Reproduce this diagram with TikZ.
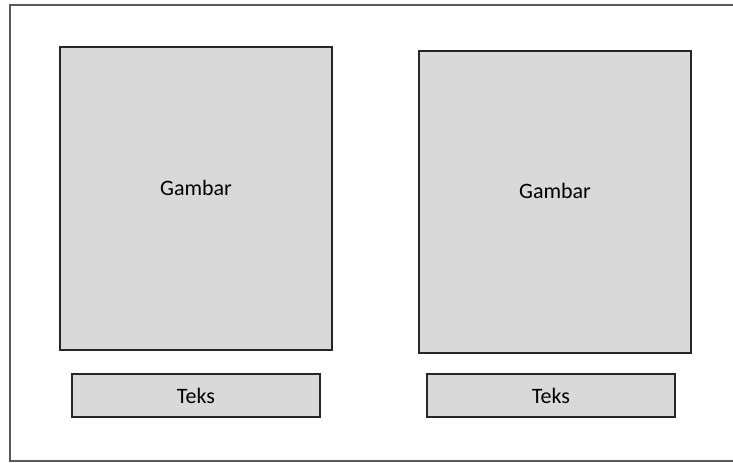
\documentclass[tikz,border=0pt]{standalone}
\usepackage{fontspec}
\setmainfont{Carlito}
\begin{document}
\begin{tikzpicture}[x=0.75pt,y=-0.75pt,
  panel/.style={draw=black!85, line width=1.5pt, fill=black!15, inner sep=0pt, outer sep=0pt},
  lbl/.style={font=\fontsize{16.5}{19}\selectfont, inner sep=0pt},
  frameline/.style={draw=black!65, line width=1.1pt}]
\useasboundingbox (0,0) rectangle (733,462);
\coordinate (ftr) at (733,5);
\coordinate (ftl) at (10,5);
\coordinate (fbl) at (10,461);
\coordinate (fbr) at (733,461);
\draw[frameline] (ftr) -- (ftl) -- (fbl) -- (fbr);
\node[panel, minimum width=204pt, minimum height=227.25pt] (g1) at (196,198.5) {};
\node[panel, minimum width=204pt, minimum height=226.5pt] (g2) at (555,202) {};
\node[panel, minimum width=186pt, minimum height=32.25pt] (t1) at (196,395.5) {};
\node[panel, minimum width=186pt, minimum height=32.25pt] (t2) at (551,395.5) {};
\node[lbl] (g1l) at (196,188) {Gambar};
\node[lbl] (g2l) at (555,191) {Gambar};
\node[lbl] (t1l) at (t1) {Teks};
\node[lbl] (t2l) at (t2) {Teks};
\end{tikzpicture}
\end{document}
